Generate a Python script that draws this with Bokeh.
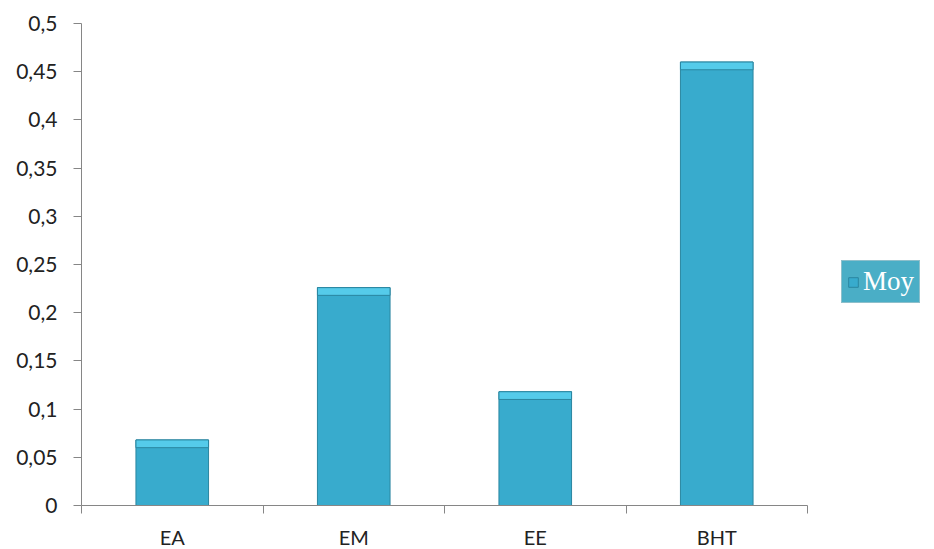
from bokeh.plotting import figure
from bokeh.models import Range1d, FixedTicker, Legend, LegendItem, ColumnDataSource
from bokeh.embed import file_html
from bokeh.resources import INLINE

categories = ["EA", "EM", "EE", "BHT"]
values = [0.068, 0.226, 0.118, 0.460]
y_ticks = [0, 0.05, 0.1, 0.15, 0.2, 0.25, 0.3, 0.35, 0.4, 0.45, 0.5]

xs = [i + 0.5 for i in range(len(categories))]
src = ColumnDataSource(dict(x=xs, top=values, cap=[v - 0.008 for v in values]))

p = figure(frame_width=726, frame_height=482, output_backend="svg", toolbar_location=None,
           x_range=Range1d(0, len(categories)), y_range=Range1d(0, 0.5),
           min_border_left=81, min_border_right=127, min_border_top=23, min_border_bottom=40)
p.outline_line_color = None
p.xgrid.visible = False
p.ygrid.visible = False
p.background_fill_color = "white"
p.border_fill_color = "white"

r = p.vbar(x="x", top="top", bottom=0, width=0.4, source=src,
           fill_color="#38abcd", line_color="#2a86a0", line_width=1)
p.vbar(x="x", top="top", bottom="cap", width=0.4, source=src,
       fill_color="#55cbea", line_color="#2a86a0", line_width=1)

axis_color = "#868686"
font = "Lato"

p.yaxis.ticker = FixedTicker(ticks=y_ticks)
p.yaxis.major_label_overrides = {t: ("%g" % t).replace(".", ",") for t in y_ticks}
p.yaxis.axis_line_color = axis_color
p.yaxis.major_tick_line_color = axis_color
p.yaxis.major_tick_out = 8
p.yaxis.major_tick_in = 0
p.yaxis.minor_tick_line_color = None
p.yaxis.major_label_standoff = 16
p.yaxis.major_label_text_font = font
p.yaxis.major_label_text_font_size = "21px"
p.yaxis.major_label_text_color = "#222222"

p.xaxis.ticker = FixedTicker(ticks=xs, minor_ticks=list(range(len(categories) + 1)))
p.xaxis.major_label_overrides = {x: c for x, c in zip(xs, categories)}
p.xaxis.axis_line_color = axis_color
p.xaxis.major_tick_line_color = None
p.xaxis.minor_tick_line_color = axis_color
p.xaxis.minor_tick_out = 8
p.xaxis.minor_tick_in = 0
p.xaxis.major_label_standoff = 11
p.xaxis.major_label_text_font = font
p.xaxis.major_label_text_font_size = "20px"
p.xaxis.major_label_text_color = "#222222"

legend = Legend(items=[LegendItem(label="Moy", renderers=[r])],
                location=(34, 202), orientation="vertical",
                background_fill_color="#4aaec6", background_fill_alpha=1,
                border_line_color="#d0d0d0", border_line_width=1,
                label_text_font="Liberation Serif", label_text_font_size="27px",
                label_text_color="white", glyph_width=12, glyph_height=12,
                padding=5, margin=0, label_standoff=4, spacing=0)
p.add_layout(legend, "right")

open("out.html", "w").write(file_html(p, INLINE))
